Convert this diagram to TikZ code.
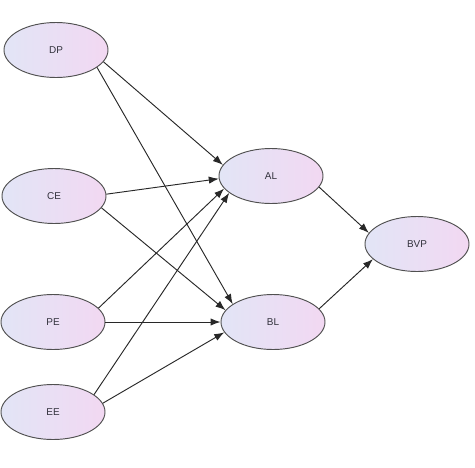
\documentclass[tikz,border=0pt]{standalone}
\usepackage{fontspec}
\setmainfont{Liberation Sans}
\usepackage{tikz}
\usetikzlibrary{positioning,arrows.meta,shapes.geometric}
\definecolor{bordegris}{RGB}{80,80,80}
\definecolor{lineagris}{RGB}{40,40,40}
\definecolor{izqlila}{RGB}{226,229,246}
\definecolor{derrosa}{RGB}{242,216,242}
\definecolor{textogris}{RGB}{50,50,60}

\begin{document}
\begin{tikzpicture}[x=0.03cm, y=-0.03cm, font=\fontsize{8.5}{10}\selectfont,
    var/.style={ellipse, draw=bordegris, line width=0.8pt, left color=izqlila, right color=derrosa,
      minimum width=3.12cm, minimum height=1.65cm, inner sep=0pt, text=textogris},
    flecha/.style={draw=lineagris, line width=0.8pt, -{Latex[length=3mm, width=2.2mm]}}]
  \useasboundingbox (0,0) rectangle (475,467);
  % exogenas
  \node[var] (dp) at (56,50) {DP};
  \node[var] (ce) at (54,196) {CE};
  \node[var] (pe) at (53,322) {PE};
  \node[var] (ee) at (53,412) {EE};
  % mediadoras
  \node[var] (al) at (271,176) {AL};
  \node[var] (bl) at (273,322) {BL};
  % resultado
  \node[var] (bvp) at (417,244) {BVP};
  % hacia AL
  \draw[flecha] (dp.-14) -- (al.167);
  \draw[flecha] (ce.2) -- (al.183);
  \draw[flecha] (pe.17) -- (al.195);
  \draw[flecha] (ee.23) -- (al.202);
  % hacia BL
  \draw[flecha] (dp.-23) -- (bl.156);
  \draw[flecha] (ce.-14) -- (bl.166);
  \draw[flecha] (pe.0) -- (bl.180);
  \draw[flecha] (ee.10) -- (bl.192);
  % hacia BVP
  \draw[flecha] (al.-13) -- (bvp.167);
  \draw[flecha] (bl.16) -- (bvp.199);
\end{tikzpicture}
\end{document}
